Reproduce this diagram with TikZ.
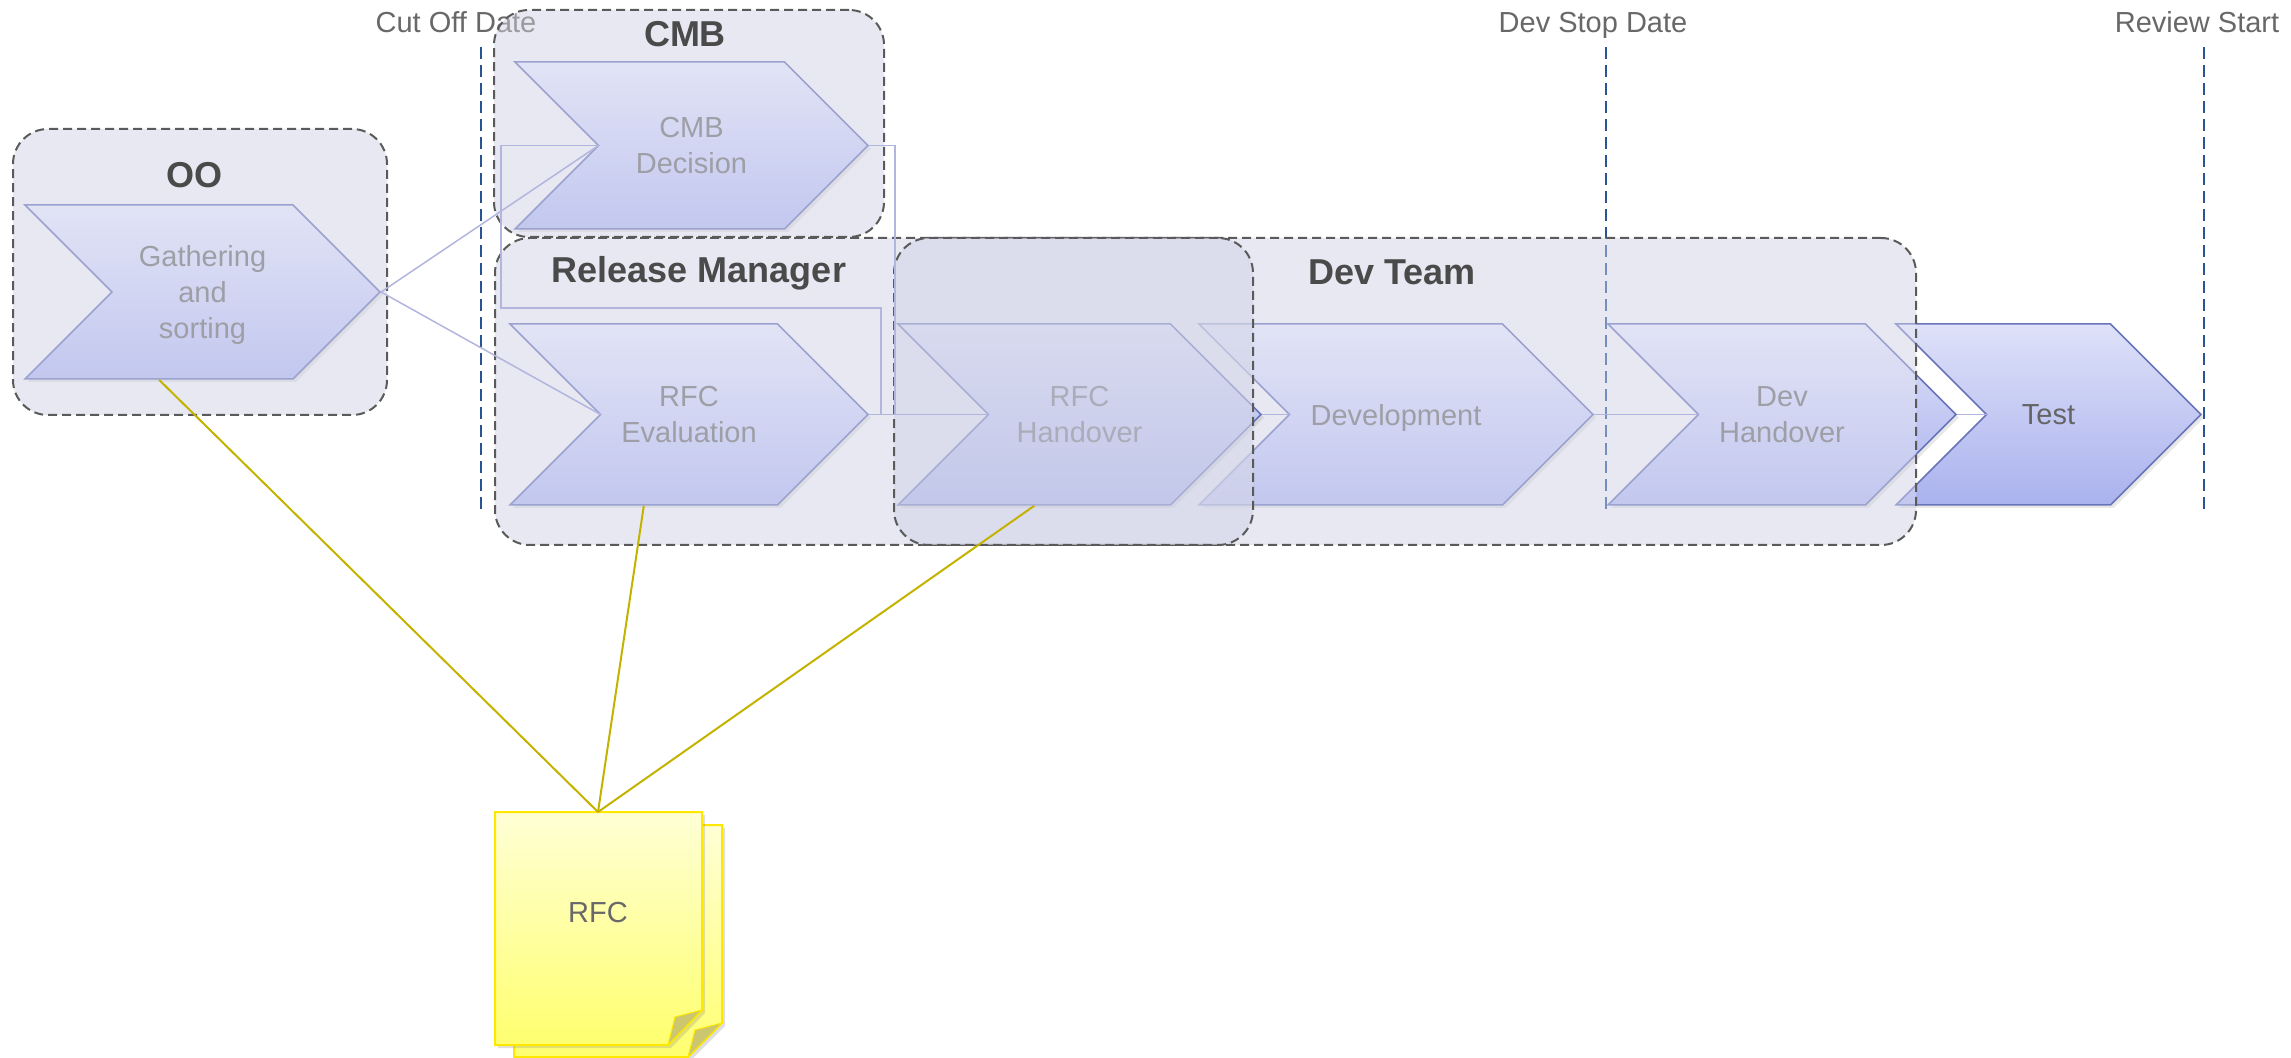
\documentclass[tikz,border=0pt]{standalone}
\usepackage{fontspec}
\setmainfont{Liberation Sans}
\usetikzlibrary{shapes.symbols,shadows,positioning}

\definecolor{boxfill}{RGB}{232,232,242}
\definecolor{boxdark}{RGB}{212,214,232}
\definecolor{boxline}{RGB}{90,90,90}
\definecolor{chevtop}{RGB}{222,225,248}
\definecolor{chevbot}{RGB}{170,178,238}
\definecolor{chevline}{RGB}{104,116,184}
\definecolor{chevtext}{RGB}{110,110,116}
\definecolor{flowline}{RGB}{178,182,222}
\definecolor{mileline}{RGB}{40,84,150}
\definecolor{docline}{RGB}{196,178,0}
\definecolor{notetop}{RGB}{255,255,214}
\definecolor{notebot}{RGB}{255,255,112}
\definecolor{noteline}{RGB}{255,232,0}
\definecolor{notefold}{RGB}{204,198,110}
\definecolor{titletext}{RGB}{74,74,74}
\definecolor{graytext}{RGB}{104,104,104}

\tikzstyle{groupbase} = [rectangle,
                        rounded corners=17.5pt,
                        fill=boxfill,
                        inner sep=0pt]
\tikzstyle{group} = [groupbase,
                    fill opacity=0.4,
                    draw=boxline,
                    line width=1pt,
                    dash pattern=on 4.5pt off 2.5pt]
\tikzstyle{title} = [font=\fontsize{18}{22}\selectfont\bfseries,
                    text=titletext]
\tikzstyle{milestone} = [font=\fontsize{14.5}{18}\selectfont,
                        text depth=0pt,
                        text=graytext]
\tikzstyle{chev} = [signal,
                   signal from=west,
                   signal to=east,
                   signal pointer angle=90,
                   inner sep=0pt,
                   minimum height=90.5pt,
                   draw=chevline,
                   line width=0.75pt,
                   top color=chevtop,
                   bottom color=chevbot,
                   text=chevtext,
                   align=center,
                   text depth=0pt,
                   font=\fontsize{14.5}{18}\selectfont,
                   drop shadow={opacity=0.18,shadow xshift=1.5pt,shadow yshift=-1.5pt}]
\tikzstyle{process} = [x=0.5pt,
                      y=-0.5pt,
                      flow/.style={draw=flowline, line width=0.75pt},
                      doc/.style={draw=docline, line width=1pt},
                      mile/.style={draw=mileline, line width=1pt, dash pattern=on 6pt off 3pt}]

\begin{document}
\begin{tikzpicture}[process]
    \useasboundingbox (0,0) rectangle (2291,1058);
    % lanes, under the steps
    \node (oo-base) [groupbase, minimum width=187pt, minimum height=143pt] at (200,272) {};
    \node (cmb-base) [groupbase, minimum width=195pt, minimum height=113.5pt] at (689,123.5) {};
    \node (dev-base) [groupbase, minimum width=710.5pt, minimum height=153.5pt] at (1205.5,391.5) {};
    % dates
    \node (cutoff) [milestone] at (456,22) {Cut Off Date};
    \node (devstop) [milestone] at (1593,22) {Dev Stop Date};
    \node (review) [milestone] at (2197,22) {Review Start};
    \coordinate (cut-a) at (481,47);
    \coordinate (cut-b) at (481,511);
    \coordinate (stop-a) at (1606,47);
    \coordinate (stop-b) at (1606,511);
    \coordinate (rev-a) at (2204,47);
    \coordinate (rev-b) at (2204,511);
    \draw[mile] (cut-a) -- (cut-b);
    \draw[mile] (stop-a) -- (stop-b);
    \draw[mile] (rev-a) -- (rev-b);
    % steps
    \node (gath) [chev, minimum width=177.5pt, minimum height=87pt] at (202.5,292) {Gathering\\and\\sorting};
    \node (cmb) [chev, minimum width=176.5pt, minimum height=83.5pt] at (691.5,145.5) {CMB\\Decision};
    \node (rfceval) [chev, minimum width=179pt] at (689,414.5) {RFC\\Evaluation};
    \node (devel) [chev, minimum width=197pt] at (1396,414.5) {Development};
    \node (devhand) [chev, minimum width=174pt] at (1782,414.5) {Dev\\Handover};
    \node (test) [chev, minimum width=152.5pt, text=titletext!85] at (2048.5,414.5) {Test};
    % lanes, over the steps
    \node (oo) [group, minimum width=187pt, minimum height=143pt] at (200,272) {};
    \node (cmbbox) [group, minimum width=195pt, minimum height=113.5pt] at (689,123.5) {};
    \node (dev) [group, minimum width=710.5pt, minimum height=153.5pt] at (1205.5,391.5) {};
    \node (rfchand) [chev, minimum width=181.5pt] at (1079.5,414.5) {RFC\\Handover};
    \node (rm) [group, fill=boxdark, fill opacity=0.6, minimum width=179.5pt, minimum height=153.5pt] at (1073.5,391.5) {};
    \node (t-oo) [title] at (194,175) {OO};
    \node (t-cmb) [title] at (685,34) {CMB};
    \node (t-rm) [title] at (699,273) {Release Manager};
    \node (t-dev) [title] at (1392,272) {Dev Team};
    % flow
    \coordinate (gath-in) at ([xshift=-45.25pt]gath.center);
    \coordinate (cmb-in) at ([xshift=-46.5pt]cmb.center);
    \coordinate (rfceval-in) at ([xshift=-44.25pt]rfceval.center);
    \coordinate (rfchand-in) at ([xshift=-45.5pt]rfchand.center);
    \coordinate (devel-in) at ([xshift=-53.25pt]devel.center);
    \coordinate (devhand-in) at ([xshift=-41.75pt]devhand.center);
    \coordinate (test-in) at ([xshift=-31pt]test.center);
    \path[flow]
      (gath.east) edge (cmb-in)
      (gath.east) edge (rfceval-in)
      (rfceval.east) edge (rfchand-in)
      (rfchand.east) edge (devel-in)
      (devel.east) edge (devhand-in)
      (devhand.east) edge (test-in);
    \draw[flow] (rfceval.east) -- ++(12,0) |- (501,308) |- (cmb-in);
    \draw[flow] (cmb.east) -- ++(26,0) |- (rfchand-in);
    % document
    \path[draw=noteline, line width=1pt, top color=notetop, bottom color=notebot,
          drop shadow={opacity=0.25,shadow xshift=1.5pt,shadow yshift=-1.5pt}]
      (514,825) -- (722,825) -- (722,1023) -- (688,1057) -- (514,1057) -- cycle;
    \path[fill=notefold, draw=noteline, line width=0.5pt] (722,1023) -- (695,1030) -- (688,1057) -- cycle;
    \path[draw=noteline, line width=1pt, top color=notetop, bottom color=notebot,
          drop shadow={opacity=0.25,shadow xshift=1.5pt,shadow yshift=-1.5pt}]
      (495,812) -- (702,812) -- (702,1010) -- (668,1045) -- (495,1045) -- cycle;
    \path[fill=notefold, draw=noteline, line width=0.5pt] (702,1010) -- (675,1017) -- (668,1045) -- cycle;
    \node (rfc) [milestone] at (598,912) {RFC};
    \coordinate (rfc-top) at (598,812);
    \path[doc]
      ([xshift=-21.75pt]gath.south) edge (rfc-top)
      ([xshift=-22.6pt]rfceval.south) edge (rfc-top)
      ([xshift=-22.6pt]rfchand.south) edge (rfc-top);
\end{tikzpicture}
\end{document}
